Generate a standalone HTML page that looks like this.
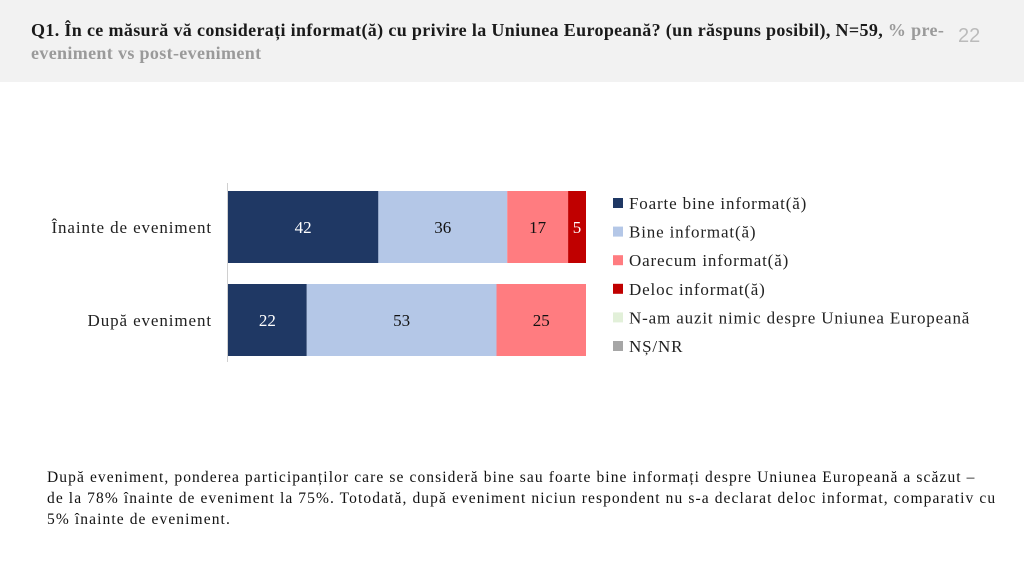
<!DOCTYPE html>
<html><head><meta charset="utf-8"><style>
body{margin:0;width:1024px;height:574px;background:#fff;position:relative;overflow:hidden;font-family:"Liberation Serif",serif}
#hdr{position:absolute;left:0;top:0;width:1024px;height:82px;background:#f2f2f2}
#title{position:absolute;left:31px;top:19px;font-size:18px;font-weight:bold;color:#1a1a1a;line-height:23px;white-space:nowrap;letter-spacing:0.35px}
#title .g{color:#9a9a9a}
#pnum{position:absolute;left:958px;top:25px;font-size:20px;color:#bbb;font-family:"Liberation Sans",sans-serif}
#para{position:absolute;left:47px;top:467px;font-size:15.5px;line-height:21px;color:#111;letter-spacing:1.1px;white-space:nowrap}
</style></head><body>
<div id="hdr">
<div id="title">Q1. În ce măsură vă considerați informat(ă) cu privire la Uniunea Europeană? (un răspuns posibil), N=59, <span class="g">% pre-</span><br><span class="g">eveniment vs post-eveniment</span></div>
<div id="pnum">22</div>
</div>
<svg id="chart" width="1024" height="574" style="position:absolute;left:0;top:0"></svg>
<div id="para">După eveniment, ponderea participanților care se consideră bine sau foarte bine informați despre Uniunea Europeană a scăzut –<br>de la 78% înainte de eveniment la 75%. Totodată, după eveniment niciun respondent nu s-a declarat deloc informat, comparativ cu<br>5% înainte de eveniment.</div>
<script>
const categories=["Înainte de eveniment","După eveniment"];
const seriesNames=["Foarte bine informat(ă)","Bine informat(ă)","Oarecum informat(ă)","Deloc informat(ă)","N-am auzit nimic despre Uniunea Europeană","NȘ/NR"];
const seriesColors=["#1f3864","#b4c7e7","#ff7c80","#c00000","#e2f0d9","#a6a6a6"];
const foarteBine=[42,22];
const bine=[36,53];
const oarecum=[17,25];
const deloc=[5,0];
const nimic=[0,0];
const nsnr=[0,0];
const series=[foarteBine,bine,oarecum,deloc,nimic,nsnr];
const NS="http://www.w3.org/2000/svg";
const svg=document.getElementById('chart');
const x0=228,plotW=358;
const xs=v=>x0+v/100*plotW;
const barTop=[191,284],barH=72;
function mk(t,a){const e=document.createElementNS(NS,t);for(const k in a)e.setAttribute(k,a[k]);svg.appendChild(e);return e;}
const ax=mk('line',{x1:227.5,x2:227.5,y1:183,y2:362,stroke:'#d0d0d0','stroke-width':1});


categories.forEach((c,i)=>{
  let cum=0;
  const yT=barTop[i];
  series.forEach((s,j)=>{
    const v=s[i];
    if(v>0){
      const r=mk('rect',{x:xs(cum),y:yT,width:xs(cum+v)-xs(cum),height:barH,fill:seriesColors[j]});
      
      
      const t=mk('text',{x:(xs(cum)+xs(cum+v))/2,y:yT+barH/2+6,'text-anchor':'middle','font-size':17,fill:(j===0||j===3)?'#fff':'#111','font-family':'Liberation Serif, serif'});
      t.textContent=v;
      
      
    }
    cum+=v;
  });
  const l=mk('text',{x:212,y:yT+barH/2+6,'text-anchor':'end','font-size':17,'letter-spacing':0.9,fill:'#222','font-family':'Liberation Serif, serif'});
  l.textContent=c;
  
  
});
seriesNames.forEach((n,j)=>{
  const y=203+j*28.6;
  const r=mk('rect',{x:613,y:y-5,width:10,height:10,fill:seriesColors[j]});
  
  
  const t=mk('text',{x:629,y:y+6,'font-size':17,'letter-spacing':0.85,fill:'#222','font-family':'Liberation Serif, serif'});
  t.textContent=n;
  
  
});
</script>
</body></html>
